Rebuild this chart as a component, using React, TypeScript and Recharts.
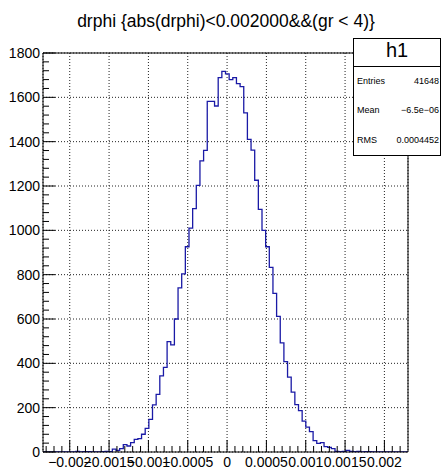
import { LineChart, Line, XAxis, YAxis, CartesianGrid } from 'recharts';

const X_MIN = -0.00234;
const X_MAX = 0.0023;

// counts per bin, 100 bins from X_MIN to X_MAX
const BIN_COUNTS = [
  0, 0, 0, 0, 0, 0, 0, 0, 1, 3,
  0, 2, 2, 0, 0, 1, 2, 3, 2, 13,
  7, 15, 33, 27, 42, 57, 60, 80, 107, 147,
  213, 260, 343, 382, 498, 483, 600, 740, 804, 926,
  1010, 1098, 1203, 1313, 1361, 1582, 1582, 1561, 1689, 1717,
  1706, 1680, 1689, 1662, 1648, 1530, 1410, 1362, 1226, 1095,
  1000, 926, 833, 716, 612, 492, 408, 338, 270, 214,
  187, 139, 112, 92, 51, 39, 42, 24, 21, 15,
  3, 2, 3, 7, 3, 2, 3, 1, 2, 2,
  1, 0, 0, 0, 0, 0, 0, 0, 0, 0,
];

const X_TICKS = [-0.002, -0.0015, -0.001, -0.0005, 0, 0.0005, 0.001, 0.0015, 0.002];
const X_LABELS = ['\u22120.002', '\u22120.0015', '\u22120.001', '\u22120.0005', '0', '0.0005', '0.001', '0.0015', '0.002'];
const Y_TICKS = [0, 200, 400, 600, 800, 1000, 1200, 1400, 1600, 1800];

const X_MINOR: number[] = [];
for (let k = -23; k <= 22; k++) if (k % 5 !== 0) X_MINOR.push(k / 10000);
const Y_MINOR: number[] = [];
for (let k = 1; k < 45; k++) if (k % 5 !== 0) Y_MINOR.push(k * 40);

const STATS = [
  { name: 'Entries', value: '41648' },
  { name: 'Mean', value: '\u22126.5e\u221206' },
  { name: 'RMS', value: '0.0004452' },
];

const binWidth = (X_MAX - X_MIN) / BIN_COUNTS.length;
const data = BIN_COUNTS.map((y, i) => ({ x: X_MIN + i * binWidth, y }));
data.push({ x: X_MAX, y: BIN_COUNTS[BIN_COUNTS.length - 1] });

const FONT = '"Liberation Sans", Arial, Helvetica, sans-serif';

const XMajorTick = (props: any) => {
  const { x, y, payload } = props;
  const idx = X_TICKS.findIndex((t) => Math.abs(t - payload.value) < 1e-9);
  return (
    <g>
      <line x1={x} y1={y} x2={x} y2={y - 12} stroke='#000' />
      <text x={x} y={y + 15} textAnchor='middle' fontSize={14} fill='#000' fontFamily={FONT}>
        {X_LABELS[idx]}
      </text>
    </g>
  );
};

const XMinorTick = (props: any) => {
  const { x, y } = props;
  return <line x1={x} y1={y - 1} x2={x} y2={y - 7} stroke='#000' />;
};

const YMajorTick = (props: any) => {
  const { x, y, payload } = props;
  return (
    <g>
      <line x1={x} y1={y} x2={x + 12} y2={y} stroke='#000' />
      <text x={x - 3} y={y + 5} textAnchor='end' fontSize={14} fill='#000' fontFamily={FONT}>
        {payload.value}
      </text>
    </g>
  );
};

const YMinorTick = (props: any) => {
  const { x, y } = props;
  return <line x1={x + 1} y1={y} x2={x + 7} y2={y} stroke='#000' />;
};

export default function App() {
  return (
    <div style={{ position: 'absolute', left: 0, top: 0, width: 442, height: 474, background: '#fff' }}>
      <LineChart width={442} height={474} data={data} margin={{ top: 52, right: 33, bottom: 20, left: 41 }}>
        <CartesianGrid stroke='#222' strokeDasharray='1 2' />
        <XAxis
          type='number'
          dataKey='x'
          domain={[X_MIN, X_MAX]}
          allowDataOverflow
          ticks={X_TICKS}
          interval={0}
          height={1}
          tickSize={0}
          tickMargin={0}
          tickLine={false}
          tick={XMajorTick}
          axisLine={{ stroke: '#000' }}
        />
        <XAxis
          xAxisId='minor'
          type='number'
          dataKey='x'
          domain={[X_MIN, X_MAX]}
          allowDataOverflow
          ticks={X_MINOR}
          interval={0}
          height={1}
          tickSize={0}
          tickMargin={0}
          tickLine={false}
          tick={XMinorTick}
          axisLine={false}
        />
        <XAxis
          xAxisId='top'
          orientation='top'
          type='number'
          dataKey='x'
          domain={[X_MIN, X_MAX]}
          allowDataOverflow
          height={1}
          tick={false}
          tickLine={false}
          axisLine={{ stroke: '#000' }}
        />
        <YAxis
          type='number'
          domain={[0, 1800]}
          allowDataOverflow
          ticks={Y_TICKS}
          interval={0}
          width={1}
          tickSize={0}
          tickMargin={0}
          tickLine={false}
          tick={YMajorTick}
          axisLine={{ stroke: '#000' }}
        />
        <YAxis
          yAxisId='minor'
          type='number'
          domain={[0, 1800]}
          allowDataOverflow
          ticks={Y_MINOR}
          interval={0}
          width={1}
          tickSize={0}
          tickMargin={0}
          tickLine={false}
          tick={YMinorTick}
          axisLine={false}
        />
        <YAxis
          yAxisId='right'
          orientation='right'
          type='number'
          domain={[0, 1800]}
          width={1}
          tick={false}
          tickLine={false}
          axisLine={{ stroke: '#000' }}
        />
        <Line
          type='stepAfter'
          dataKey='y'
          stroke='#1a1aa6'
          strokeWidth={1.3}
          dot={false}
          activeDot={false}
          isAnimationActive={false}
        />
      </LineChart>
      <svg width={442} height={474} style={{ position: 'absolute', left: 0, top: 0, pointerEvents: 'none' }}>
        <text x={226} y={27} textAnchor='middle' fontSize={17.5} fontFamily={FONT} fill='#000'>
          drphi {'{'}abs(drphi)&lt;0.002000&amp;&amp;(gr &lt; 4){'}'}
        </text>
        <rect x={353.5} y={38.5} width={87} height={117} fill='#fff' stroke='#000' />
        <line x1={353.5} y1={66.5} x2={440.5} y2={66.5} stroke='#000' />
        <text x={397} y={57} textAnchor='middle' fontSize={20} fontFamily={FONT} fill='#000'>
          h1
        </text>
        {STATS.map((s, i) => (
          <g key={s.name}>
            <text x={357} y={84 + i * 29.3} fontSize={9} fontFamily={FONT} fill='#000'>
              {s.name}
            </text>
            <text x={439} y={84 + i * 29.3} textAnchor='end' fontSize={9} fontFamily={FONT} fill='#000'>
              {s.value}
            </text>
          </g>
        ))}
      </svg>
    </div>
  );
}
